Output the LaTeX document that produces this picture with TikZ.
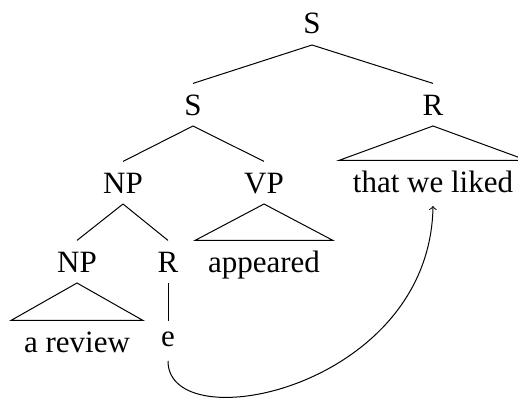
\documentclass[tikz,border=0pt]{standalone}
\usepackage{fontspec}
\setmainfont{Liberation Serif}
\begin{document}
\begin{tikzpicture}[x=0.5pt,y=-0.5pt,
  lab/.style={anchor=base,inner xsep=0pt,inner ysep=5.5pt,outer sep=0pt,
              text height=10.3pt,text depth=0pt,font=\fontsize{15.5}{18}\selectfont},
  small/.style={lab,text height=7pt},
  branch/.style={line width=0.5pt},
  roof/.style={line width=0.5pt,line join=miter}]
\useasboundingbox (0,0) rectangle (518,401);
\clip (0,0) rectangle (518,401);

% category labels
\node[lab] (s0) at (312,34) {S};
\node[lab] (s1) at (193,115) {S};
\node[lab] (r1) at (433,115) {R};
\node[lab] (np1) at (123,193) {NP};
\node[lab] (vp) at (264,193) {VP};
\node[lab] (np2) at (77,272) {NP};
\node[lab] (r2) at (168,272) {R};

% leaves
\node[lab] (rel) at (433,192) {that we liked};
\node[lab] (verb) at (264,272) {appeared};
\node[lab] (obj) at (77,352) {a review};
\node[small] (gap) at (168,346) {e};

% branches
\draw[branch] (s0.south) -- (s1.north);
\draw[branch] (s0.south) -- (r1.north);
\draw[branch] (s1.south) -- (np1.north);
\draw[branch] (s1.south) -- (vp.north);
\draw[branch] (np1.south) -- (np2.north);
\draw[branch] (np1.south) -- (r2.north);
\draw[branch] (r2.south) -- (gap.north);

% roofs over unanalysed constituents
\draw[roof] (r1.south) -- ([xshift=-7pt]rel.north west) -- ([xshift=7pt]rel.north east) -- cycle;
\draw[roof] (vp.south) -- ([xshift=-6.5pt]verb.north west) -- ([xshift=6.5pt]verb.north east) -- cycle;
\draw[roof] (np2.south) -- ([xshift=-6.5pt]obj.north west) -- ([xshift=6.5pt]obj.north east) -- cycle;

% movement arrow from the gap to the relative clause
\draw[branch,->] ([yshift=-2pt]gap.south) .. controls +(0,80) and +(-3,183) .. ([yshift=-1.5pt]rel.south);
\end{tikzpicture}
\end{document}
